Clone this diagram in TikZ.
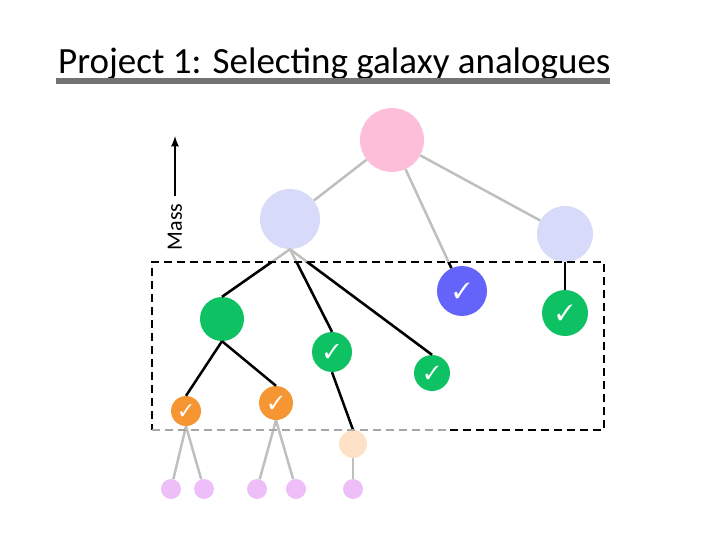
\documentclass[tikz,border=0pt]{standalone}
\usepackage{fontspec}
\setmainfont{Carlito}
\usepackage{pifont}
\begin{document}
\begin{tikzpicture}[x=1pt,y=-1pt,
 nd/.style={circle,inner sep=0pt,minimum size=#1},
 gr/.style={draw=black!25,line width=2.5pt},
 bk/.style={draw=black,line width=2.5pt}]
\newcommand{\myck}[1]{\textcolor{white}{\fontsize{#1}{#1}\selectfont\ding{51}}}
\useasboundingbox (0,0) rectangle (720,540);
\definecolor{pk}{RGB}{252,190,216}
\definecolor{lv}{RGB}{216,218,250}
\definecolor{bl}{RGB}{100,100,250}
\definecolor{gn}{RGB}{14,194,100}
\definecolor{og}{RGB}{246,150,50}
\definecolor{pc}{RGB}{253,226,200}
\definecolor{ll}{RGB}{238,190,248}
\node[anchor=base west,inner sep=0pt,font=\fontsize{37}{38}\selectfont] (t) at (58,74) {Project 1: Selecting galaxy analogues};
\draw[black!55,line width=6pt] (56,81) -- (610,81);
\coordinate (m1) at (175,196); \coordinate (m2) at (175,136);
\draw[line width=2.5pt,-latex] (m1) -- (m2);
\node[rotate=90,font=\fontsize{22}{22}\selectfont] (mass) at (175,227) {Mass};
\node[nd=64,fill=pk] (p) at (392,140) {};
\node[nd=60,fill=lv] (la) at (290,219) {};
\node[nd=56,fill=lv] (lb) at (565,234) {};
\node[nd=50,fill=bl] (b) at (462,291) {\myck{22}};
\node[nd=46,fill=gn] (g1) at (565,313) {\myck{22}};
\node[nd=44,fill=gn] (g0) at (222,319) {};
\node[nd=40,fill=gn] (g2) at (332,352) {\myck{20}};
\node[nd=36,fill=gn] (g3) at (432,373) {\myck{19}};
\node[nd=30,fill=og] (o1) at (186,411) {\myck{17}};
\node[nd=34,fill=og] (o2) at (276,403) {\myck{19}};
\node[nd=28,fill=pc] (pe) at (353,444) {};
\foreach \n/\x in {l1/171,l2/204,l3/257,l4/296,l5/353}
  \node[nd=20,fill=ll] (\n) at (\x,489) {};
% edges
\draw[gr] (p) -- (la); \draw[gr] (p) -- (b); \draw[gr] (p) -- (lb);
\draw[gr] (o1.south) -- (l1); \draw[gr] (o1.south) -- (l2);
\draw[gr] (o2.south) -- (l3); \draw[gr] (o2.south) -- (l4);
\draw[gr] (pe) -- (l5);
\draw[gr] (la.south) -- (g0.north); \draw[gr] (la.south) -- (g2.north); \draw[gr] (la.south) -- (g3.north);
\begin{scope}
\clip (152,262) rectangle (604,430);
\draw[bk] (la.south) -- (g0.north); \draw[bk] (la.south) -- (g2.north); \draw[bk] (la.south) -- (g3.north);
\draw[bk] (p) -- (b); \draw[bk] (lb) -- (g1);
\end{scope}
\draw[bk] (g0.south) -- (o1.north); \draw[bk] (g0.south) -- (o2.north);
\draw[bk] (g2.south) -- (pe.north);
\draw[black,line width=2.5pt,dash pattern=on 8pt off 5pt] (450,430) -- (604,430) -- (604,262) -- (152,262) -- (152,430);
\draw[black!35,line width=2.5pt,dash pattern=on 8pt off 5pt] (152,430) -- (450,430);
\end{tikzpicture}
\end{document}
